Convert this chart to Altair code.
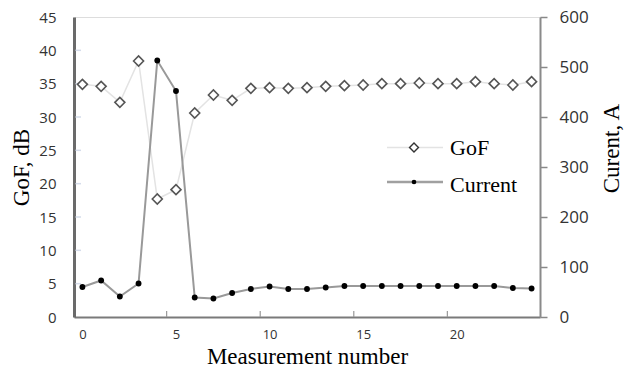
import altair as alt
import pandas as pd

measurement = list(range(25))
gof = [34.9, 34.6, 32.2, 38.4, 17.7, 19.1, 30.6, 33.3, 32.5, 34.3, 34.4, 34.3, 34.4,
       34.6, 34.7, 34.8, 35.0, 35.0, 35.1, 35.0, 35.0, 35.3, 35.0, 34.8, 35.3]
current = [60, 73, 41, 67, 513, 452, 39, 37, 48, 56, 61, 56, 56,
           59, 62, 62, 62, 62, 62, 62, 62, 62, 62, 58, 57]
x_label_values = [0, 5, 10, 15, 20]
x_tick_marks = [4.5, 9.5, 14.5, 19.5]
left_ticks = [5, 10, 15, 20, 25, 30, 35, 40]
left_labels = [0, 5, 10, 15, 20, 25, 30, 35, 40, 45]
right_labels = [0, 100, 200, 300, 400, 500, 600]
legend_names = ["GoF", "Current"]

df = pd.DataFrame({"n": measurement, "gof": gof, "current": current})
W, H = 466, 300
xscale = alt.Scale(domain=[-0.45, 24.45], nice=False, zero=False)
yl = alt.Scale(domain=[0, 45], nice=False)
yr = alt.Scale(domain=[0, 600], nice=False)

xaxis = alt.Axis(values=x_label_values, title="Measurement number", grid=False,
                 ticks=False, domainColor="#7a7a7a", domainWidth=2, labelOverlap=False,
                 labelFont="Open Sans", labelFontSize=13, labelColor="#333",
                 labelPadding=11, titleFont="Liberation Serif", titleFontSize=23,
                 titleFontWeight="normal", titleColor="#000", titleY=46,
                 titleBaseline="alphabetic")
laxis = alt.Axis(values=left_labels, title="GoF, dB", grid=False,
                 ticks=False, domainColor="#6a6a6a", domainWidth=3, labelOverlap=False,
                 labelFont="Open Sans", labelFontSize=15, labelColor="#333", labelPadding=18,
                 titleFont="Liberation Serif", titleFontSize=23, titleFontWeight="normal",
                 titleColor="#000", titleX=-53, titleY=H / 2, titleBaseline="middle",
                 titleAngle=270)
raxis = alt.Axis(orient="right", values=right_labels, title="Curent, A",
                 grid=False, tickColor="#888", tickSize=7, tickWidth=1.5, labelOverlap=False,
                 domainColor="#8a8a8a", domainWidth=2,
                 labelFont="Open Sans", labelFontSize=17, labelColor="#333", labelPadding=12,
                 titleFont="Liberation Serif", titleFontSize=23, titleFontWeight="normal",
                 titleColor="#000", titleX=71, titleY=131, titleBaseline="middle",
                 titleAngle=270)

base = alt.Chart(df)

gof_line = base.mark_line(color="#e3e3e3", strokeWidth=1.5).encode(
    x=alt.X("n:Q", scale=xscale, axis=xaxis),
    y=alt.Y("gof:Q", scale=yl, axis=laxis),
)
gof_pts = base.mark_point(shape="diamond", filled=True, fill="white", stroke="#555",
                          strokeWidth=1.6, size=100, opacity=1).encode(
    x=alt.X("n:Q", scale=xscale, axis=xaxis), y=alt.Y("gof:Q", scale=yl, axis=laxis))

tick_df = pd.DataFrame({"t": x_tick_marks})
xticks = alt.Chart(tick_df).mark_rule(color="#999", strokeWidth=1.2).encode(
    x=alt.X("t:Q", scale=xscale, axis=xaxis), y=alt.value(H), y2=alt.value(H - 6))
lt_df = pd.DataFrame({"v": left_ticks})
lticks = alt.Chart(lt_df).mark_rule(color="#d5dcea", strokeWidth=1.5).encode(
    y=alt.Y("v:Q", scale=yl, axis=laxis), x=alt.value(1.5), x2=alt.value(7))

left = alt.layer(gof_line, lticks, xticks, gof_pts)

cur_line = base.mark_line(color="#999", strokeWidth=2).encode(
    x=alt.X("n:Q", scale=xscale, axis=xaxis),
    y=alt.Y("current:Q", scale=yr, axis=raxis),
)
cur_pts = base.mark_circle(color="#000", size=34, opacity=1).encode(
    x=alt.X("n:Q", scale=xscale, axis=xaxis),
    y=alt.Y("current:Q", scale=yr, axis=raxis))
right = alt.layer(cur_line, cur_pts)

# legend
leg_df = pd.DataFrame({"name": legend_names})
g = leg_df[leg_df.name == "GoF"]
c = leg_df[leg_df.name == "Current"]
lx0, lx1, lxs, ltx = 313, 369, 340, 376
gy, cy = 130.5, 165
gby, cby = 138, 174.5
leg = alt.layer(
    alt.Chart(g).mark_rule(color="#e3e3e3", strokeWidth=1.5).encode(
        x=alt.value(lx0), x2=alt.value(lx1), y=alt.value(gy)),
    alt.Chart(g).mark_point(shape="diamond", filled=True, fill="white", stroke="#333",
                            strokeWidth=1.4, size=80, opacity=1).encode(
        x=alt.value(lxs), y=alt.value(gy)),
    alt.Chart(g).mark_text(align="left", baseline="alphabetic", font="Liberation Serif",
                           fontSize=22, color="#000").encode(
        x=alt.value(ltx), y=alt.value(gby), text="name:N"),
    alt.Chart(c).mark_rule(color="#a0a0a0", strokeWidth=2.5).encode(
        x=alt.value(lx0), x2=alt.value(lx1), y=alt.value(cy)),
    alt.Chart(c).mark_circle(color="#000", size=22, opacity=1).encode(
        x=alt.value(lxs), y=alt.value(cy)),
    alt.Chart(c).mark_text(align="left", baseline="alphabetic", font="Liberation Serif",
                           fontSize=22, color="#000").encode(
        x=alt.value(ltx), y=alt.value(cby), text="name:N"),
)

chart = alt.layer(left, right, leg).resolve_scale(y="independent").properties(
    width=W, height=H,
    autosize=alt.AutoSizeParams(type="none"),
    padding={"left": 74, "top": 17, "right": 84, "bottom": 51},
).configure_view(stroke="#000", strokeWidth=1.5).configure(background="white")

chart.save("out.html", embed_options={"renderer": "svg", "actions": False})
